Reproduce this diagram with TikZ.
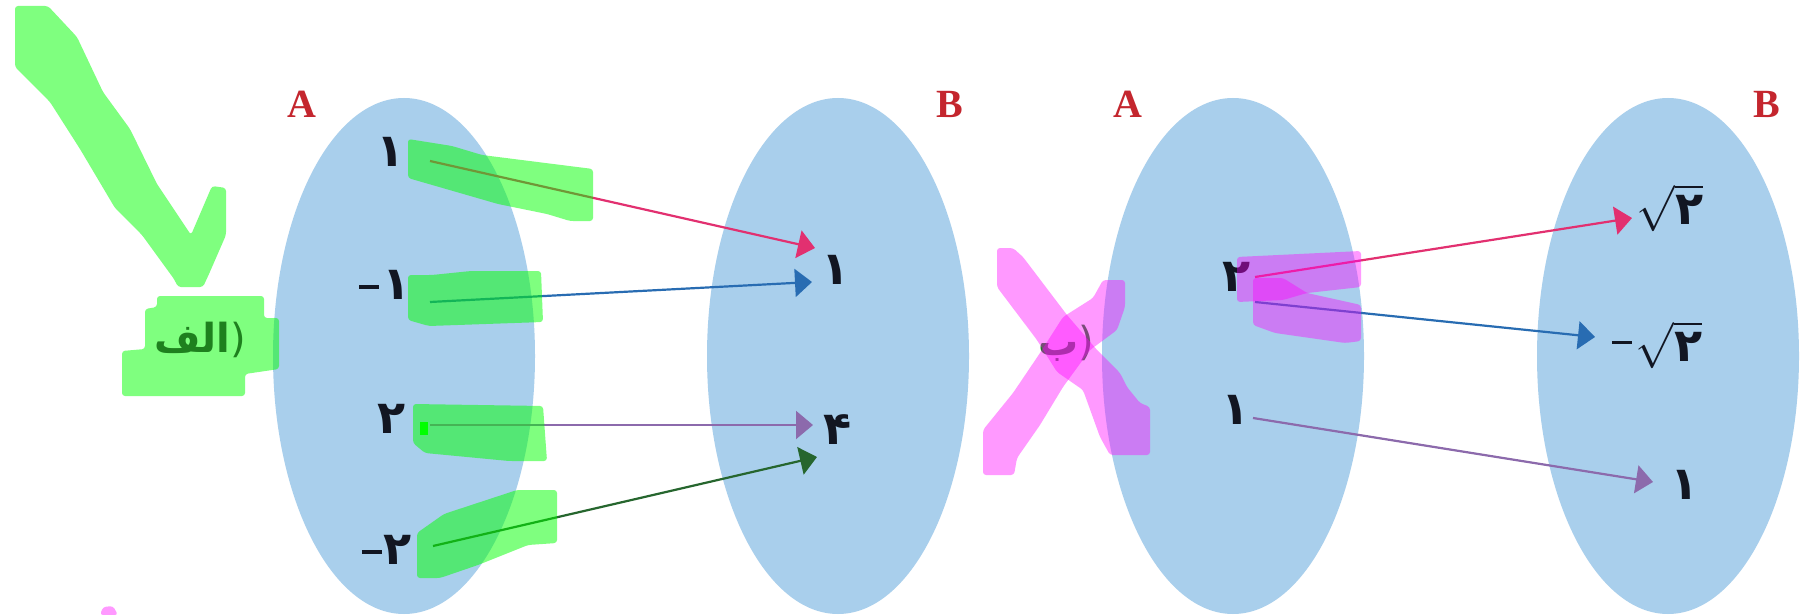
\documentclass[tikz,border=0pt]{standalone}
\usepackage{fix-cm}
\usepackage{fontspec}
\setmainfont{Liberation Serif}
\newfontfamily\arabicfont[Script=Arabic]{DejaVu Sans}
\newfontfamily\parenfont{DejaVu Sans}
\TeXXeTstate=1
\usetikzlibrary{shapes.geometric,arrows.meta}
\definecolor{setblue}{RGB}{169,207,236}
\definecolor{labelred}{RGB}{196,38,46}
\definecolor{elemtext}{RGB}{18,22,34}
\definecolor{arrpink}{RGB}{226,48,112}
\definecolor{arrblue}{RGB}{40,108,178}
\definecolor{arrpurple}{RGB}{140,106,172}
\definecolor{arrgreen}{RGB}{38,102,46}
\definecolor{labgreen}{RGB}{30,128,30}
\definecolor{hlgreen}{RGB}{0,255,0}
\definecolor{hlpink}{RGB}{255,0,255}
\begin{document}
\begin{tikzpicture}[x=1pt,y=-1pt,
  setnode/.style={ellipse, fill=setblue, draw=none, minimum width=262pt, minimum height=516pt, inner sep=0pt, outer sep=0pt},
  setlabel/.style={text=labelred, font=\fontsize{40}{40}\selectfont\bfseries, inner sep=0pt},
  elem/.style={text=elemtext, font=\fontsize{46}{46}\selectfont\arabicfont\bfseries, inner sep=0pt},
  maparrow/.style={line width=2.2pt, -{Triangle[length=17pt,width=28pt]}},
  greenhl/.style={fill=hlgreen, fill opacity=0.5, rounded corners=3pt},
  pinkhl/.style={fill=hlpink, fill opacity=0.4, rounded corners=3pt},
  partlabel/.style={text=labgreen, font=\fontsize{40}{40}\selectfont\arabicfont\bfseries, inner sep=0pt},
]
\useasboundingbox (0,0) rectangle (1805,615);
\fill[white] (0,0) rectangle (1805,615);

% sets
\node[setnode] (A1) at (404,356) {};
\node[setnode] (B1) at (838,356) {};
\node[setnode] (A2) at (1233,356) {};
\node[setnode] (B2) at (1668,356) {};

\node[setlabel] (lA1) at (302,104) {A};
\node[setlabel] (lB1) at (950,104) {B};
\node[setlabel] (lA2) at (1128,104) {A};
\node[setlabel] (lB2) at (1767,104) {B};

% elements, first diagram
\node[elem] (a11) at (391,152) {۱};
\node[elem] (a12) at (385,285) {\rule[11pt]{20pt}{3.5pt}\hspace{3pt}۱};
\node[elem] (a13) at (392,419) {۲};
\node[elem] (a14) at (387,550) {\rule[11pt]{20pt}{3.5pt}\hspace{2pt}۲};
\node[elem] (b11) at (836,270) {۱};
\node[elem] (b12) at (838,430) {۴};

% elements, second diagram
\node[elem] (a21) at (1237,277) {۲};
\node[elem] (a22) at (1236,410) {۱};
\node[elem] (b21) at (1670,208) {$\sqrt{\hbox{\arabicfont\bfseries ۲}}$};
\node[elem] (b22) at (1657,345) {\rule[18pt]{20pt}{2.5pt}\hspace{4pt}$\sqrt{\hbox{\arabicfont\bfseries ۲}}$};
\node[elem] (b23) at (1685,485) {۱};

% arrow ends
\coordinate (s1) at (430,161);  \coordinate (t1) at (815,248);
\coordinate (s2) at (430,302);  \coordinate (t2) at (812,282);
\coordinate (s3) at (430,425);  \coordinate (t3) at (813,425);
\coordinate (s4) at (433,546);  \coordinate (t4) at (817,457);
\coordinate (s5) at (1255,277); \coordinate (t5) at (1632,218);
\coordinate (s6) at (1255,302); \coordinate (t6) at (1595,337);
\coordinate (s7) at (1253,418); \coordinate (t7) at (1653,482);

\draw[maparrow, arrpink]   (s1) -- (t1);
\draw[maparrow, arrblue]   (s2) -- (t2);
\draw[maparrow, arrpurple] (s3) -- (t3);
\draw[maparrow, arrgreen]  (s4) -- (t4);
\draw[maparrow, arrpink]   (s5) -- (t5);
\draw[maparrow, arrblue]   (s6) -- (t6);
\draw[maparrow, arrpurple] (s7) -- (t7);

% part labels
\node[partlabel] (pb) at (1066,343) {\hbox{\beginR ب\endR}\hbox{\parenfont\mdseries )}};

% green highlighter marks
\fill[greenhl] (15,6) -- (48,6) -- (77,37) -- (103,92) -- (130,129) -- (157,184) -- (191,235) -- (212,186) -- (226,188) -- (226,235) -- (209,274) -- (203,287) -- (178,287) -- (174,279) -- (142,235) -- (115,208) -- (80,149) -- (50,102) -- (15,67) -- cycle;
\fill[greenhl] (157,296) -- (264,296) -- (264,318) -- (279,318) -- (279,369) -- (245,374) -- (245,396) -- (122,396) -- (122,351) -- (145,349) -- (145,309) -- (157,307) -- cycle;
\fill[greenhl] (408,139) -- (452,146) -- (482,155) -- (593,169) -- (593,221) -- (570,221) -- (547,214) -- (498,204) -- (408,178) -- cycle;
\fill[greenhl] (408,275) -- (432,275) -- (471,271) -- (541,271) -- (543,322) -- (429,326) -- (408,320) -- cycle;
\fill[greenhl] (413,404) -- (543,406) -- (547,461) -- (509,461) -- (425,453) -- (413,443) -- cycle;
\fill[hlgreen] (420,422) rectangle (428,435);
\fill[greenhl] (417,533) -- (444,514) -- (517,490) -- (557,490) -- (557,543) -- (528,545) -- (478,565) -- (440,578) -- (417,578) -- cycle;
\node[partlabel] (pa) at (200,340) {\hbox{\beginR الف\endR}\hbox{\parenfont\mdseries )}};

% pink highlighter marks
\fill[pinkhl] (997,248) -- (1013,248) -- (1023,257) -- (1067,315) -- (1097,350) -- (1120,373) -- (1127,387) -- (1140,403) -- (1150,407) -- (1150,455) -- (1110,455) -- (1100,437) -- (1083,390) -- (1057,372) -- (1037,340) -- (997,287) -- cycle;
\fill[pinkhl] (1103,280) -- (1125,280) -- (1125,307) -- (1117,330) -- (1090,350) -- (1063,387) -- (1040,425) -- (1017,458) -- (1014,475) -- (983,475) -- (983,430) -- (1013,393) -- (1040,353) -- (1063,317) -- (1093,298) -- cycle;
\fill[pinkhl] (1237,257) -- (1361,251) -- (1361,287) -- (1307,293) -- (1283,300) -- (1237,302) -- cycle;
\fill[pinkhl] (1253,278) -- (1283,278) -- (1307,293) -- (1361,305) -- (1361,341) -- (1345,343) -- (1275,333) -- (1253,325) -- cycle;
\fill[pinkhl] (100,615) -- (103,607) -- (113,606) -- (118,615) -- cycle;
\end{tikzpicture}
\end{document}
